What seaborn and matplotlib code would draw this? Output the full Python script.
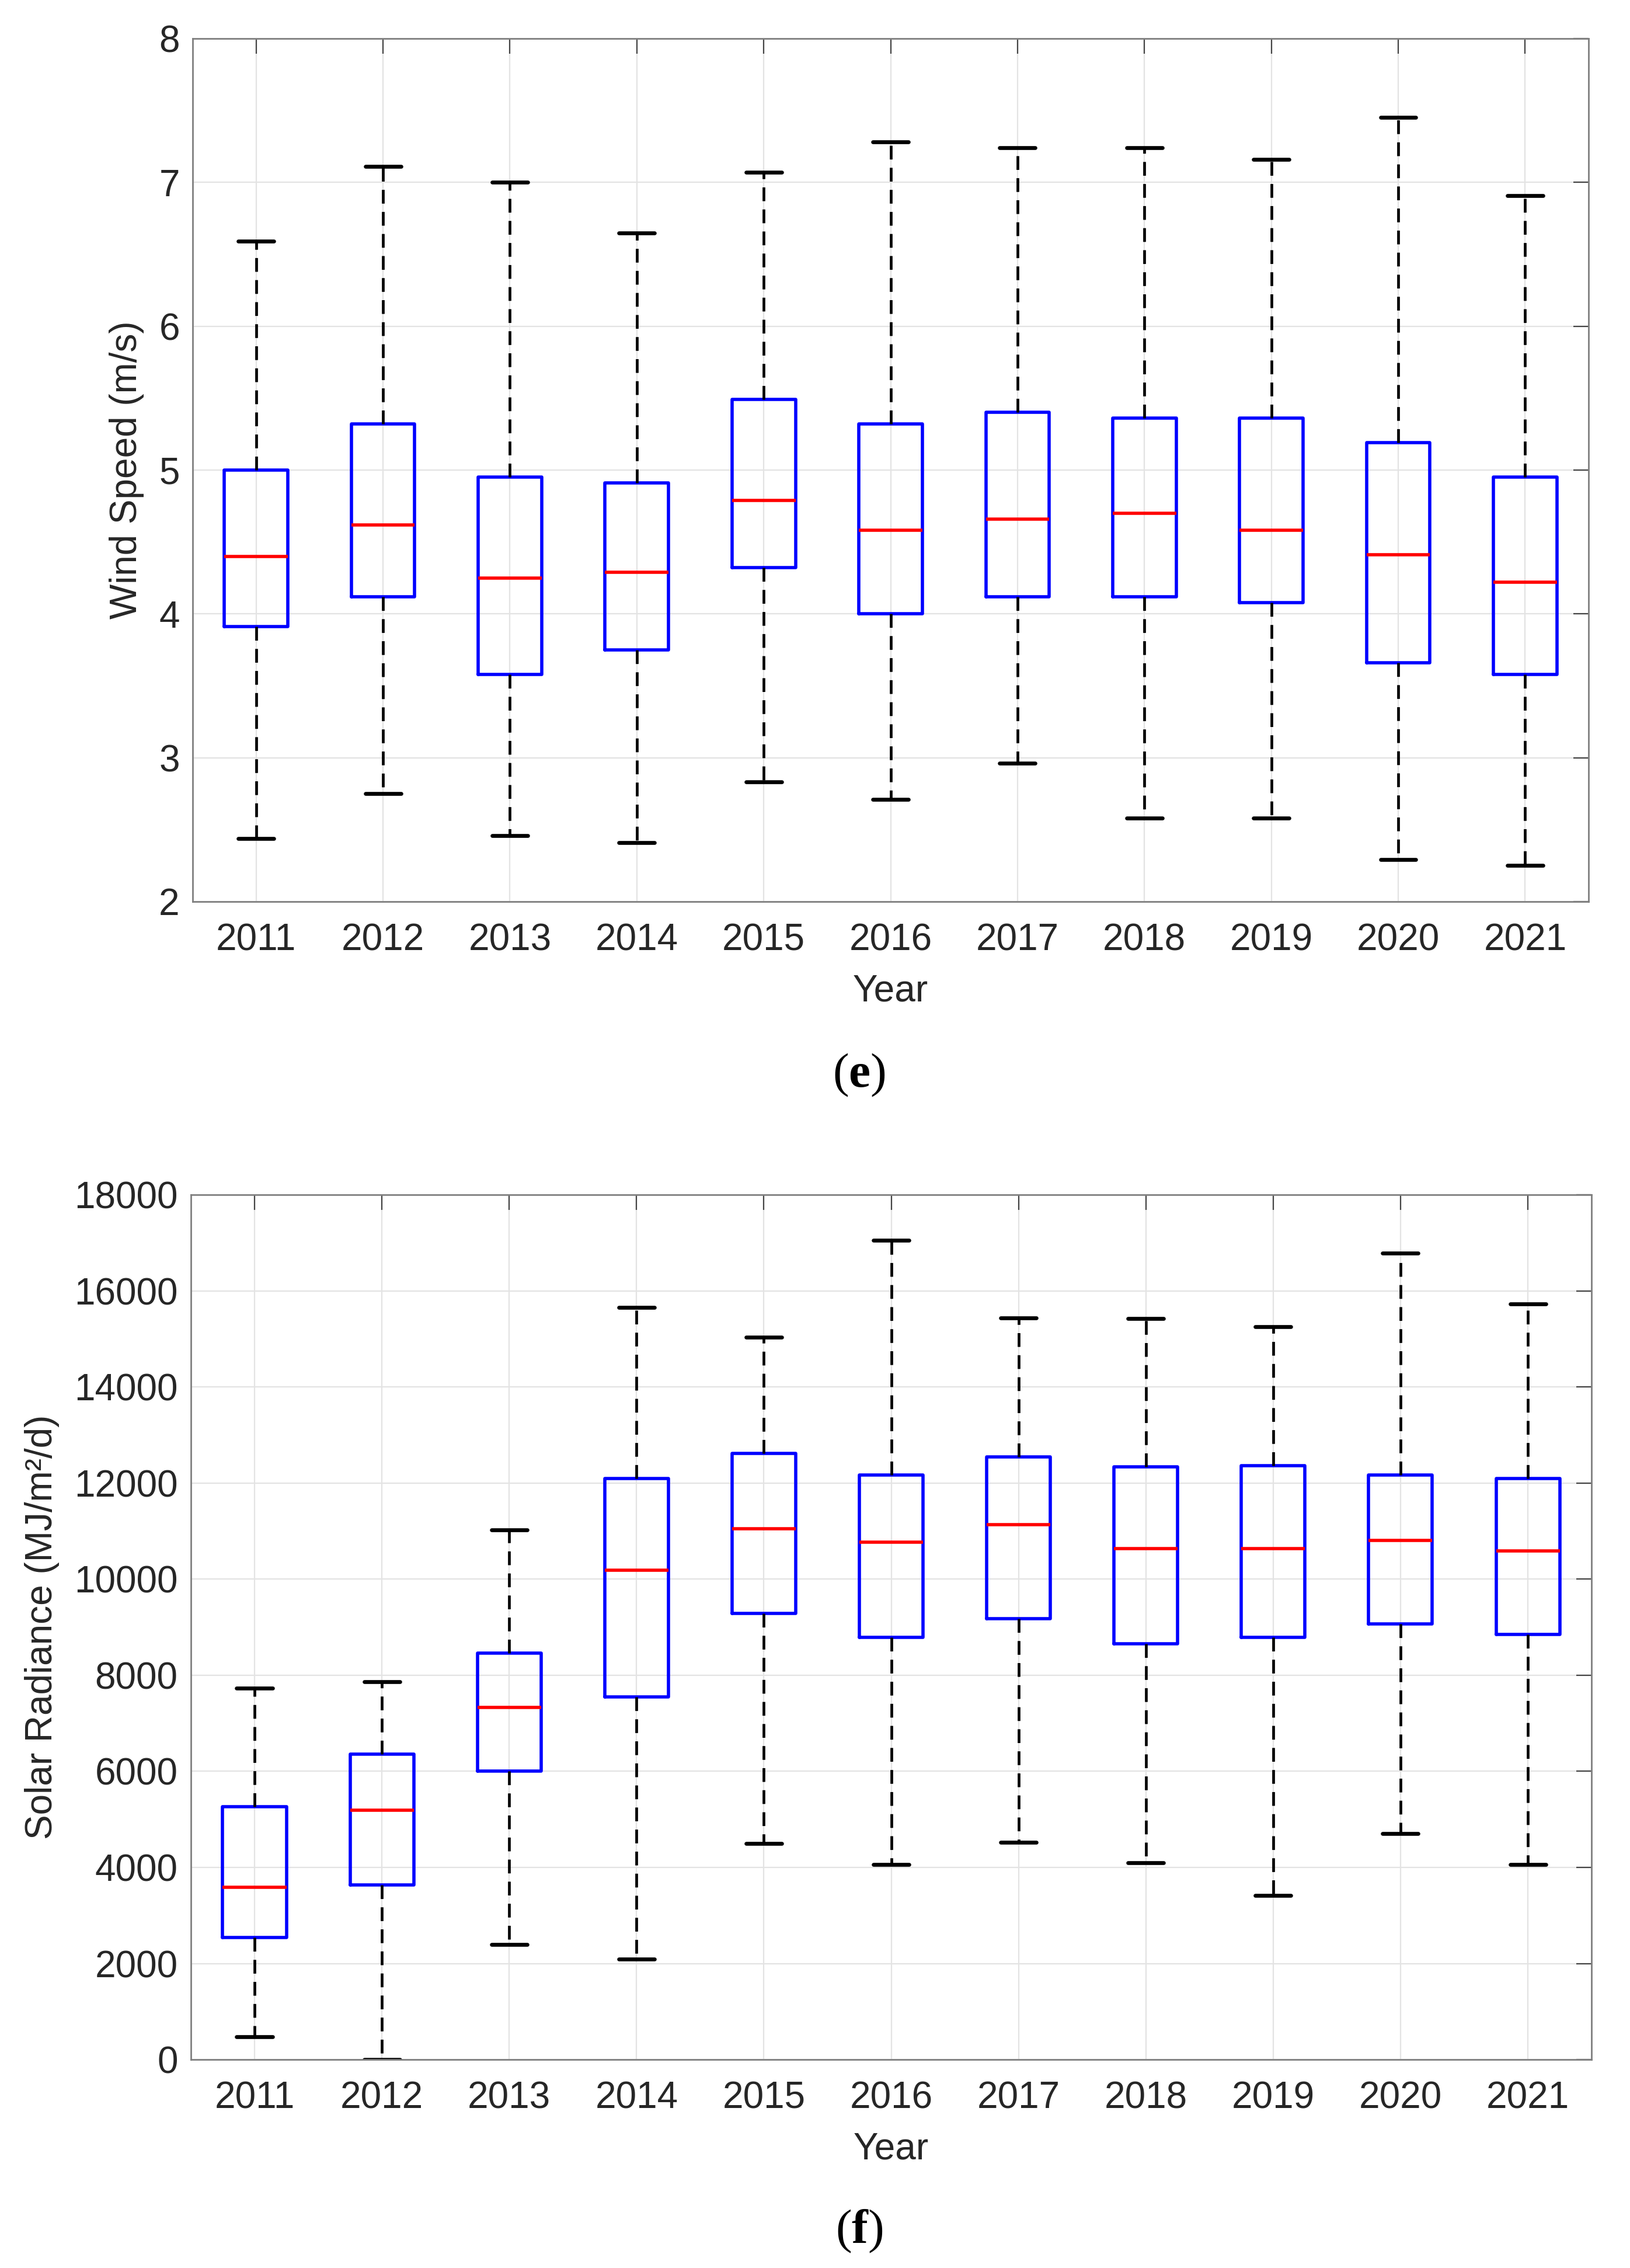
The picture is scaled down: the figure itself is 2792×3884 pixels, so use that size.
import numpy as np
import pandas as pd
import matplotlib
matplotlib.use("Agg")
import matplotlib.pyplot as plt
import seaborn as sns

# Годы (категории по оси X)
years = ['2011', '2012', '2013', '2014', '2015', '2016', '2017', '2018', '2019', '2020', '2021']

# (e) Скорость ветра: минимум, Q1, медиана, Q3, максимум
wind_min = [2.44, 2.75, 2.46, 2.41, 2.83, 2.71, 2.96, 2.58, 2.58, 2.29, 2.25]
wind_q1 = [3.91, 4.12, 3.58, 3.75, 4.32, 4.00, 4.12, 4.12, 4.08, 3.66, 3.58]
wind_med = [4.40, 4.62, 4.25, 4.29, 4.79, 4.58, 4.66, 4.70, 4.58, 4.41, 4.22]
wind_q3 = [5.00, 5.32, 4.95, 4.91, 5.49, 5.32, 5.40, 5.36, 5.36, 5.19, 4.95]
wind_max = [6.59, 7.11, 7.00, 6.65, 7.07, 7.28, 7.24, 7.24, 7.16, 7.45, 6.91]

# (f) Солнечная радиация: минимум, Q1, медиана, Q3, максимум
solar_min = [470, 0, 2400, 2090, 4500, 4060, 4520, 4100, 3420, 4710, 4060]
solar_q1 = [2540, 3640, 6000, 7550, 9290, 8790, 9180, 8660, 8790, 9070, 8850]
solar_med = [3590, 5190, 7330, 10180, 11050, 10770, 11140, 10640, 10640, 10800, 10590]
solar_q3 = [5260, 6360, 8460, 12090, 12620, 12170, 12540, 12340, 12360, 12170, 12100]
solar_max = [7730, 7860, 11030, 15660, 15040, 17050, 15440, 15420, 15260, 16780, 15730]

sns.set_style('white')
plt.rcParams['font.family'] = ['Liberation Sans', 'DejaVu Sans']
plt.rcParams['mathtext.fontset'] = 'custom'
plt.rcParams['mathtext.rm'] = 'Liberation Serif'
plt.rcParams['mathtext.bf'] = 'Liberation Serif:bold'

TEXT_COLOR = '#262626'
SPINE_COLOR = '#7f7f7f'
GRID_COLOR = '#e3e3e3'


# Пять чисел на год -> квартили совпадают с заданными при whis=(0, 100)
def make_frame(mins, q1s, meds, q3s, maxs):
    rows = []
    for i, y in enumerate(years):
        for v in (mins[i], q1s[i], meds[i], q3s[i], maxs[i]):
            rows.append({'Year': y, 'value': v})
    return pd.DataFrame(rows)


def draw_panel(ax, df, ylabel, ylim, yticks):
    sns.boxplot(data=df, x='Year', y='value', order=years, ax=ax,
                fill=False, width=0.5, whis=(0, 100), showfliers=False,
                capwidths=0.28,
                boxprops=dict(color='#0000ff', linewidth=2.0),
                medianprops=dict(color='#ff0000', linewidth=2.0),
                whiskerprops=dict(color='black', linewidth=1.7, linestyle=(0, (5.0, 3.0))),
                capprops=dict(color='black', linewidth=2.4))
    ax.set_xlim(-0.5, len(years) - 0.5)
    ax.set_ylim(*ylim)
    ax.set_yticks(yticks)
    ax.grid(True, color=GRID_COLOR, linewidth=0.8)
    ax.set_axisbelow(True)
    for s in ax.spines.values():
        s.set_visible(True)
        s.set_color(SPINE_COLOR)
        s.set_linewidth(1.0)
    ax.tick_params(axis='both', direction='in', top=True, right=True, length=9.5, width=0.8,
                   color='#444444', labelsize=23, labelcolor=TEXT_COLOR)
    ax.tick_params(axis='x', pad=13)
    ax.tick_params(axis='y', pad=8)
    ax.set_xlabel('Year', fontsize=23, color=TEXT_COLOR, labelpad=10)
    ax.set_ylabel(ylabel, fontsize=23, color=TEXT_COLOR, labelpad=9)


fig = plt.figure(figsize=(13.96, 19.42), dpi=200)
ax1 = fig.add_axes([0.1182, 0.6025, 0.8564, 0.3805])
ax2 = fig.add_axes([0.1171, 0.0919, 0.8593, 0.3813])

draw_panel(ax1, make_frame(wind_min, wind_q1, wind_med, wind_q3, wind_max),
           'Wind Speed (m/s)', (2, 8), np.arange(2, 9, 1))
draw_panel(ax2, make_frame(solar_min, solar_q1, solar_med, solar_q3, solar_max),
           'Solar Radiance (MJ/m²/d)', (0, 18000), np.arange(0, 18001, 2000))

fig.text(0.527, 1 - 1841 / 3884, r'$\mathrm{(}\mathbf{e}\mathrm{)}$', fontsize=30,
         ha='center', va='center', color='black')
fig.text(0.527, 1 - 3821 / 3884, r'$\mathrm{(}\mathbf{f}\mathrm{)}$', fontsize=30,
         ha='center', va='center', color='black')

fig.savefig('out.png', dpi=200, facecolor='white')
